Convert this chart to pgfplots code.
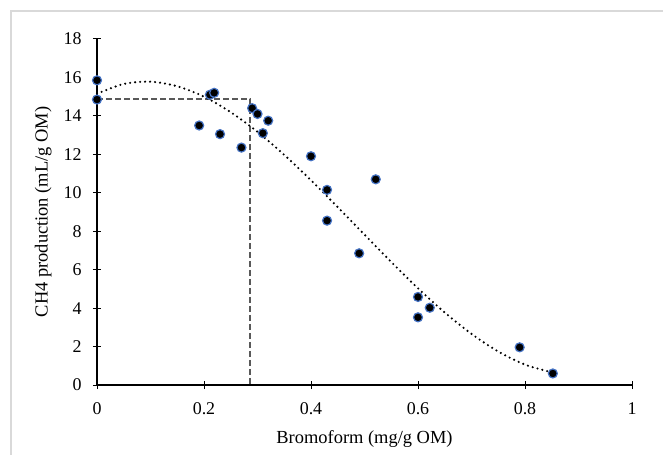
\documentclass[border=0pt]{standalone}
\usepackage{fontspec}
\setmainfont{Liberation Serif}
\usepackage{pgfplots}
\pgfplotsset{compat=1.18}
\definecolor{markedge}{HTML}{4472C4}
\definecolor{dashgray}{HTML}{595959}
\definecolor{framegray}{HTML}{D9D9D9}
\begin{document}
\begin{tikzpicture}
\useasboundingbox (0,0) rectangle (663bp,455bp);
\draw[framegray, line width=1.2bp] (11bp,0) -- (11bp,444bp) -- (663bp,444bp);
\begin{axis}[
  at={(97bp,70bp)}, anchor=south west,
  scale only axis,
  width=535bp, height=346bp,
  xmin=0, xmax=1, ymin=0, ymax=18,
  xtick={0,0.2,...,1}, ytick={0,2,...,18},
  axis lines=left,
  axis line style={-, line width=1.8bp, black},
  tick align=center,
  major tick length=8bp,
  tick style={black, line width=1bp},
  /pgf/number format/assume math mode=true,
  tick label style={font=\fontsize{18}{20}\selectfont},
  xticklabel style={yshift=-10bp},
  yticklabel style={xshift=-8bp},
  label style={font=\fontsize{18.5}{20}\selectfont},
  xlabel={Bromoform (mg/g OM)},
  ylabel={CH4 production (mL/g OM)},
  xlabel style={yshift=-9bp},
  ylabel style={yshift=5bp},
  clip=false,
]
% dashed guide lines at the optimum
\addplot[dashgray, dash pattern=on 6bp off 3bp, line width=1.3bp] coordinates {(0,14.88) (0.286,14.88) (0.286,0)};
% fitted trend line
\addplot[black, line width=2.4bp, dash pattern=on 0pt off 5bp, line cap=round, smooth] coordinates {
  (0,15.15) (0.05,15.66) (0.10,15.78) (0.15,15.54) (0.20,15.00) (0.25,14.19)
  (0.30,13.17) (0.35,11.97) (0.40,10.65) (0.45,9.25) (0.50,7.82) (0.55,6.40)
  (0.60,5.03) (0.65,3.77) (0.70,2.66) (0.75,1.74) (0.80,1.06) (0.85,0.66)
};
% measurements
\addplot[only marks, mark=*, mark size=4.5bp, mark options={fill=black, draw=markedge, line width=1.2bp}] coordinates {
  (0,15.85) (0,14.85) (0.191,13.5) (0.211,15.1) (0.219,15.2) (0.23,13.05)
  (0.27,12.35) (0.29,14.4) (0.30,14.1) (0.31,13.1) (0.32,13.75) (0.40,11.9)
  (0.43,10.15) (0.43,8.55) (0.521,10.7) (0.49,6.85) (0.60,4.58) (0.622,4.02)
  (0.60,3.52) (0.79,1.96) (0.852,0.6)
};
\end{axis}
\end{tikzpicture}
\end{document}
